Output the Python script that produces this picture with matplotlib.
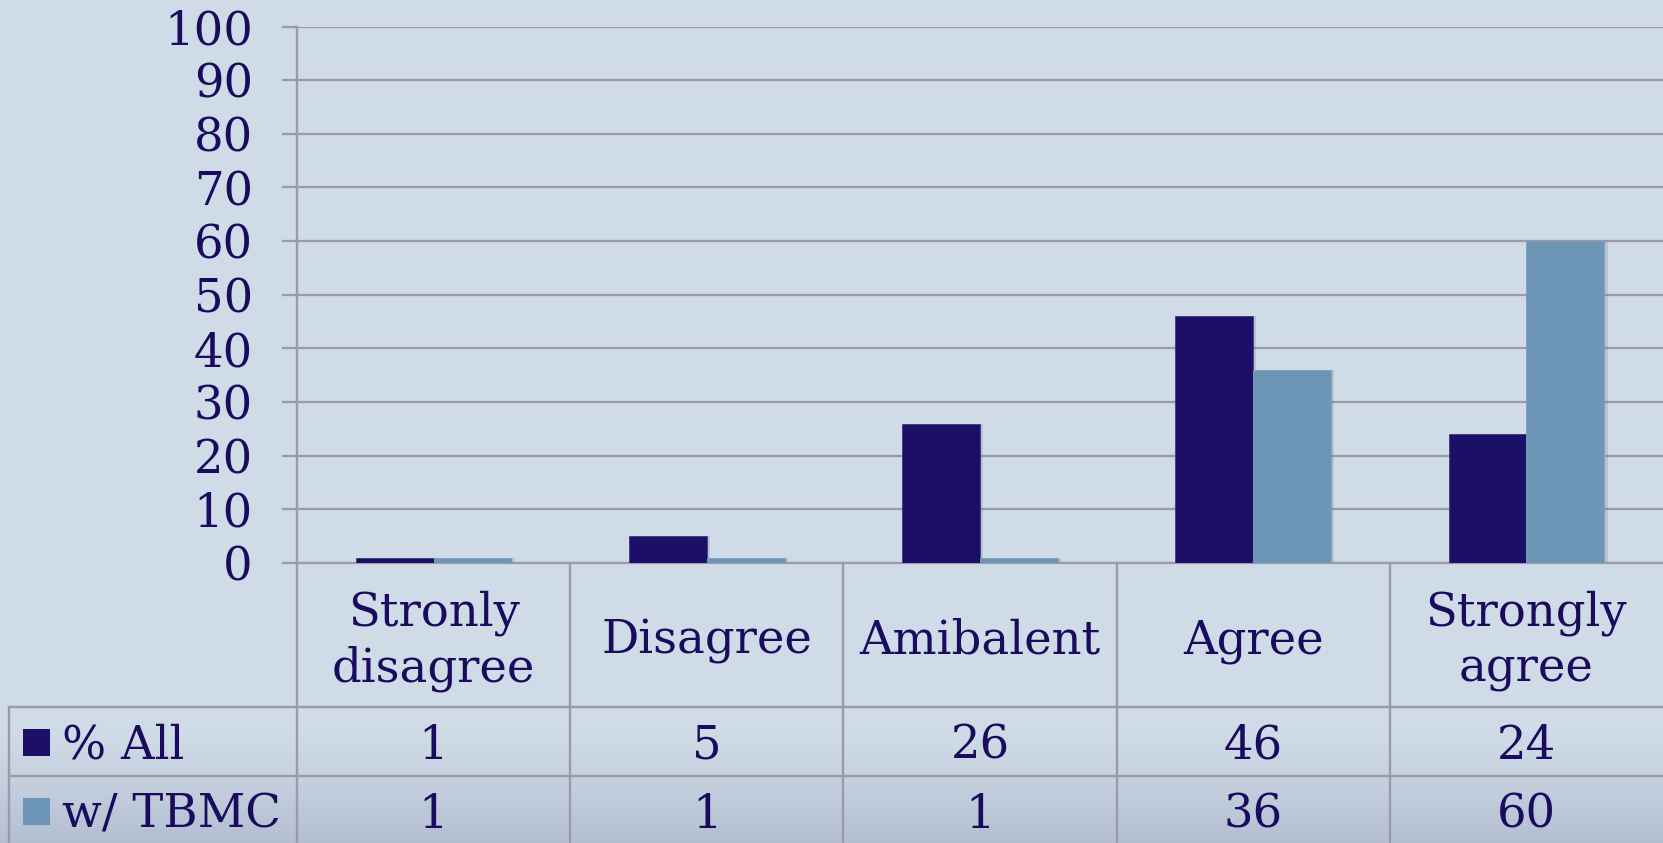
import numpy as np
import matplotlib
matplotlib.use("Agg")
import matplotlib.pyplot as plt
from matplotlib.patches import Rectangle

# ---- data ----
categories = ["Stronly\ndisagree", "Disagree", "Amibalent", "Agree", "Strongly\nagree"]
series_names = ["% All", "w/ TBMC"]
pct_all = [1, 5, 26, 46, 24]
pct_tbmc = [1, 1, 1, 36, 60]
y_ticks = list(range(0, 101, 10))

# ---- style ----
W, H, DPI = 1663, 843, 100
BG = "#CFDBE6"
BG_BOTTOM = "#B3BFD1"
DARK = "#1B0F68"
LIGHT = "#6D95B6"
GRID = "#9C9AAA"
TEXT = "#1A0B5E"
FONT = "DejaVu Serif"
FS = 33.5

plt.rcParams["font.family"] = [FONT]

fig = plt.figure(figsize=(W / DPI, H / DPI), dpi=DPI)
fig.patch.set_facecolor(BG)

# background with a soft darkening towards the bottom
bg_ax = fig.add_axes([0, 0, 1, 1], zorder=0)
bg_ax.set_axis_off()
rows = np.arange(H) + 0.5
t = np.clip((rows - 730) / (H - 730), 0, 1) ** 1.2
c0 = np.array(matplotlib.colors.to_rgb(BG))
c1 = np.array(matplotlib.colors.to_rgb(BG_BOTTOM))
grad = c0[None, :] * (1 - t[:, None]) + c1[None, :] * t[:, None]
bg_ax.imshow(grad[:, None, :], aspect="auto", extent=[0, 1, 1, 0],
             interpolation="nearest")
bg_ax.set_xlim(0, 1)
bg_ax.set_ylim(1, 0)

# layout (pixels)
x_axis = 297
y_top, y_zero = 26.5, 563
y_head_bot, y_row1_bot = 707, 776
x_table_left = 9

ax = fig.add_axes([x_axis / W, 1 - y_zero / H, (W - x_axis) / W, (y_zero - y_top) / H], zorder=2)
ax.set_facecolor("none")

n = len(categories)
x = np.arange(n) + 0.5
bw = 0.285

# subtle drop shadows, then the bars
for xs, vals in ((x - bw / 2, pct_all), (x + bw / 2, pct_tbmc)):
    ax.bar(xs + 0.012, vals, width=bw, color="#4a5a70", alpha=0.18, zorder=2, linewidth=0)
ax.bar(x - bw / 2, pct_all, width=bw, color=DARK, zorder=3, linewidth=0.6, edgecolor="#3a3a80")
ax.bar(x + bw / 2, pct_tbmc, width=bw, color=LIGHT, zorder=3, linewidth=0.6, edgecolor="#7d9fbc")

ax.set_xlim(0, n)
ax.set_ylim(0, 100)
ax.set_yticks(y_ticks)
ax.set_yticklabels([str(v) for v in y_ticks], fontsize=FS, color=TEXT, family=FONT)
ax.tick_params(axis="y", length=10.8, width=1.6, color=GRID, pad=21)
ax.set_xticks([])
ax.yaxis.grid(True, color=GRID, linewidth=1.6, zorder=1)
ax.set_axisbelow(True)
for s in ("top", "right", "left"):
    ax.spines[s].set_visible(False)
ax.spines["bottom"].set_color(GRID)
ax.spines["bottom"].set_linewidth(1.6)

# data table below the plot, drawn in pixel space
ov = fig.add_axes([0, 0, 1, 1], zorder=3)
ov.set_axis_off()
ov.set_xlim(0, W)
ov.set_ylim(H, 0)
ov.patch.set_visible(False)

col_w = (W - x_axis) / n
col_edges = [x_axis + i * col_w for i in range(n + 1)]
lw = 1.7
ov.plot([x_axis, x_axis], [y_top, H], color=GRID, lw=lw)
for xe in col_edges[1:-1]:
    ov.plot([xe, xe], [y_zero, H], color=GRID, lw=lw)
ov.plot([x_table_left, x_table_left], [y_head_bot, H], color=GRID, lw=lw)
for yy in (y_head_bot, y_row1_bot):
    ov.plot([x_table_left, W], [yy, yy], color=GRID, lw=lw)

# header labels
for i, cat in enumerate(categories):
    cx = (col_edges[i] + col_edges[i + 1]) / 2
    ov.text(cx, 641, cat, ha="center", va="center", fontsize=FS, color=TEXT,
            family=FONT, linespacing=1.28)

# value rows with legend keys
row_centers = [746, 815]
for r, (name, vals, col) in enumerate(zip(series_names, (pct_all, pct_tbmc), (DARK, LIGHT))):
    yc = row_centers[r]
    ov.add_patch(Rectangle((23, yc - 17), 27, 27, facecolor=col, edgecolor="none"))
    ov.text(62, yc, name, ha="left", va="center", fontsize=FS, color=TEXT, family=FONT)
    for i, v in enumerate(vals):
        cx = (col_edges[i] + col_edges[i + 1]) / 2
        ov.text(cx, yc, str(v), ha="center", va="center", fontsize=FS, color=TEXT, family=FONT)

fig.savefig("out.png", dpi=DPI, facecolor=BG)
